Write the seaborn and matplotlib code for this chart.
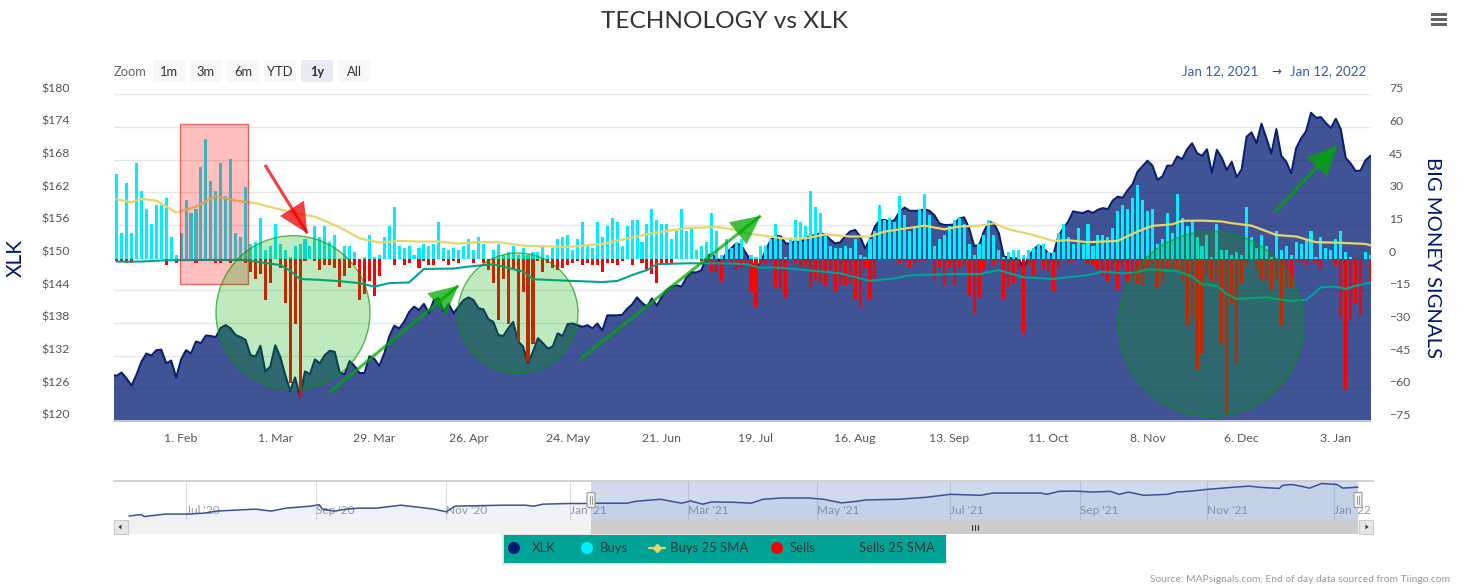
import numpy as np
import matplotlib
matplotlib.use("Agg")
import matplotlib.pyplot as plt
from matplotlib.patches import Circle, Rectangle, Polygon, FancyBboxPatch
import seaborn as sns

# daily values (Jan 12 2021 -> Jan 12 2022)
buys = [
    39,12,35,12,44,31,23,16,25,25, 28,10,2,12,27,21,23,42,55,36,
    31,44,29,46,12,10,33,7,8,19, 4,6,16,7,4,1,6,7,9,6,
    15,10,15,8,11,0,6,6,3,0, 1,11,1,2,10,15,24,6,5,6,
    2,5,7,6,7,17,5,4,5,4, 6,9,4,10,7,0,4,7,2,3, 6,2,
    5,2,3,3,6,2,5,9,10,11, 4,9,17,6,5,17,10,15,19,17,
    6,15,18,18,8,16,23,18,16,16, 9,13,23,13,14,4,6,8,21,13,
    2,9,5,8,9,0,2,1,6,6, 9,16,9,1,9,18,17,15,31,24,
    21,11,6,5,5,6,5,9,2,1, 9,13,25,18,19,17,29,20,13,14,
    23,30,20,6,9,11,15,18,19,
    16,7,2,7,11,18,11,4,1,3, 4,4,2,4,5,7,7,3,3,12,
    16,10,7,14,7,16,6,11,11,10, 14,22,25,23,28,34,27,22,23,7,
    9,21,12,30,19,15,17,10,6,11, 1,16,4,4,2,3,2,24,10,5,
    11,6,1,13,4,6,2,8,7,9, 13,1,10,5,4,9,13,3,1,0, 0,3,2,
]
sells = [
    1,1,2,2,0,0,0,0,0,0, 3,0,2,0,0,0,2,0,0,0,
    2,2,0,2,0,0,2,6,9,7, 19,11,0,4,20,57,30,64,1,0,
    1,5,3,3,4,13,8,4,3,19, 16,10,17,8,0,0,3,0,3,2,
    0,4,1,3,3,0,1,3,1,2, 0,0,2,0,2,5,11,28,9,30, 5,38,
    15,47,39,1,6,2,4,5,4,3, 2,1,3,2,3,3,6,2,2,3,
    1,0,3,0,2,5,7,11,2,2, 2,0,0,0,0,0,1,1,6,6,
    10,0,2,5,4,2,15,22,3,2, 1,13,14,18,0,2,4,3,13,9,
    11,12,5,15,12,12,11,19,22,4, 19,9,0,0,0,0,2,1,4,2,
    1,1,0,9,4,12,4,12,4,
    3,17,25,18,5,0,3,1,19,13, 11,5,34,3,8,0,5,6,15,5,
    0,2,1,0,0,2,3,5,8,10, 5,14,4,10,9,11,12,5,2,13,
    10,4,4,6,10,31,27,51,43,8, 10,10,39,71,20,48,11,3,0,5,
    9,10,14,9,31,13,13,1,1,3, 0,2,5,0,0,3,27,60,28,20, 26,0,10,
]
# first value is the day before the window, the area starts at the plot edge
xlk = [
    128.5,
    128.3,128.9,127.8,126.5,128.5,130.9,132.4,132.0,133.0,133.1,
    130.6,131.1,128.0,131.3,133.0,132.4,134.6,134.3,135.7,135.6,
    135.4,137.1,137.6,137.0,135.8,135.4,134.9,132.1,131.8,133.8,
    129.1,130.0,133.9,131.8,128.5,125.5,128.0,124.5,129.1,128.6,
    131.3,130.6,132.1,132.9,132.7,128.9,128.6,131.0,130.1,128.8,
    128.8,131.9,131.4,130.1,132.4,135.5,137.5,137.0,138.2,140.0,
    141.0,140.4,141.5,139.8,142.2,142.5,140.1,141.5,139.8,141.0,
    142.2,142.7,142.2,140.7,140.5,138.7,138.2,135.8,135.6,137.0,
    138.2,134.6,
    133.7,130.6,132.7,135.2,134.3,133.3,133.7,136.1,135.6,137.8,
    137.9,137.6,137.3,137.6,137.0,137.9,136.6,139.4,139.4,139.4,
    139.5,140.6,141.4,142.7,141.7,141.0,142.5,141.2,142.8,144.1,
    144.7,144.9,144.7,146.4,147.3,147.3,147.7,150.2,150.7,149.9,
    149.3,150.8,151.7,152.6,152.3,150.8,149.3,148.0,149.3,151.4,
    153.3,154.0,153.9,152.6,152.6,153.1,152.6,153.7,153.9,154.2,
    154.5,154.2,153.3,152.6,152.8,153.9,154.8,155.1,153.9,151.7,
    153.3,155.7,156.9,156.9,156.6,156.9,158.5,159.2,158.6,158.6,
    158.6,158.9,158.6,157.8,156.3,156.0,156.0,156.1,157.2,
    157.4,155.4,152.2,152.2,154.8,156.6,156.3,154.5,150.2,150.0,
    149.8,149.9,148.0,150.2,151.4,152.3,151.7,150.8,150.5,153.9,
    155.4,156.6,158.5,158.3,158.2,158.6,158.2,158.8,159.1,158.9,
    160.5,161.2,161.0,162.4,163.5,165.8,166.8,167.8,166.9,164.3,
    164.9,166.9,166.9,168.6,168.1,169.9,171.0,169.2,168.7,169.9,
    165.6,169.8,168.3,166.1,167.6,164.8,166.2,172.2,173.0,171.0,
    174.6,171.9,169.1,173.6,168.7,167.6,165.5,170.1,171.9,173.2,
    176.6,175.7,175.8,174.7,173.8,175.5,173.6,168.3,167.3,165.9,
    166.0,167.9,168.7,
]
buys_sma_days = [0,3,5,8,12,16,20,24,28,32,36,40,45,49,53,57,61,65,69,73,77,82,
                 88,91,98,101,108,115,121,125,128,135,139,143,148,152,155,163,167,170,
                 174,177,180,184,186,189,192,196,202,206,209,213,215,219,223,225,229,234,238,242,246,252,253]
buys_sma = [27.4,26.0,27.6,26.8,21.3,24.0,28.9,26.8,25.6,23.3,21.0,19.4,14.5,9.5,7.5,8.3,8.0,8.0,7.0,7.7,7.7,6.1,
            5.7,5.5,6.9,8.4,11.8,14.2,14.7,13.3,11.5,9.3,9.5,11.3,10.3,10.3,12.6,15.3,13.6,14.9,
            15.2,16.4,13.6,11.5,10.3,8.3,8.6,7.7,8.3,12.6,15.2,15.9,17.5,17.6,17.2,16.4,15.3,11.0,10.3,7.7,7.5,6.9,6.3]
sells_sma_days = [0,5,10,17,26,29,33,35,37,41,45,49,52,55,59,62,68,71,76,82,
                  84,91,98,101,104,107,109,115,119,124,127,130,134,139,146,152,157,160,170,
                  174,178,183,189,196,199,203,206,208,214,217,219,222,224,226,232,237,240,243,246,248,250,253]
sells_sma = [-1.2,-1.2,-0.6,-0.5,-0.5,-1.5,-2.8,-5.4,-9.2,-9.6,-10.2,-11.1,-12.7,-11.1,-10.8,-4.6,-4.4,-3.5,-2.4,-5.8,
             -9.3,-10,-10.6,-10.1,-7.4,-5.1,-2.4,-2,-2,-2.1,-2.4,-4,-4,-5.1,-6.6,-10.1,-8.9,-7.5,-6.9,
             -7.0,-5.1,-8.4,-9.2,-7.4,-5.8,-6.6,-6.1,-4.7,-5.5,-8.1,-11.6,-12.4,-16.2,-18.4,-17.6,-19.3,-18.8,-13.0,-12.7,-13.8,-12.3,-10.9]

price_ticks = [120,126,132,138,144,150,156,162,168,174,180]
signal_ticks = [-75,-60,-45,-30,-15,0,15,30,45,60,75]
date_ticks = [13,32,52,71,91,110,129,149,168,188,208,227,246]
date_labels = ["1. Feb","1. Mar","29. Mar","26. Apr","24. May","21. Jun","19. Jul",
               "16. Aug","13. Sep","11. Oct","8. Nov","6. Dec","3. Jan"]

# navigator series covers the prior months too
nav_days = [-153,-149,-148,-141,-133,-128,-124,-118,-111,-106,-101,-93,-90,-89,-85,-81,-77,-71,-63,-52,-48,-45,
            -29,-22,-19,-16,-7,-1,3,12,15,23,30,33,37,40,47,53,57,63,72,77,83,88,91,102,111,119,129,133,141,149,
            151,155,160,166,172,175,178,183,191,194,199,204,212,218,222,228,229,232,235,238,242,247,249,254]
nav_price = [98.5,102.2,97.3,103.4,103.4,105.8,110.6,113,115.5,110.6,117.9,122.7,126.4,115.5,110.6,115.5,117.9,117.9,125.2,115.5,108.9,122.7,
             125.2,125.2,122.7,127.6,129.3,129.3,130,130,134.8,139.7,130,135.6,127.6,133.1,132.4,130,139.7,142.8,142.8,139.7,130.7,134.8,138,139.7,144.5,151.8,149.4,154.9,154.9,154.9,
             151.8,159.1,159.8,157.4,159.1,151.8,157.4,149.4,151.8,157.4,159.8,163.9,168.7,171.9,168.7,166.3,173.6,176,171.9,167,178.4,176,167,169.5]
nav_ticks = [-134,-91,-48,-7,32,75,119,162,204,246]
nav_labels = ["Jul '20","Sep '20","Nov '20","Jan '21","Mar '21","May '21","Jul '21","Sep '21","Nov '21","Jan '22"]

W, H = 1458, 588
NAVY = "#001970"
CYAN = "#00eeff"
RED = "#ff0000"
YELLOW = "#e6d669"
TEAL = "#00a497"
GREEN = "#00aa00"

sns.set_theme(style="white")
plt.rcParams["font.family"] = ["Lato", "DejaVu Sans"]


def px_axes(fig, left, top, right, bottom):
    return fig.add_axes([left / W, 1 - bottom / H, (right - left) / W, (bottom - top) / H])


fig = plt.figure(figsize=(W / 100, H / 100), dpi=100)
ax = px_axes(fig, 114, 94.3, 1371, 421)

# price area on the left axis
xlk_days = np.arange(len(xlk)) - 1
ax.fill_between(xlk_days, xlk, 100, color=NAVY, alpha=0.75, lw=0, zorder=2)
sns.lineplot(x=xlk_days, y=xlk, ax=ax, color="#0a1f70", lw=1.5, zorder=3)
ax.set_ylim(120, 180)
ax.set_yticks(price_ticks, labels=[f"${p}" for p in price_ticks])
ax.set_xticks(date_ticks, labels=date_labels)
ax.grid(axis="y", color="#e6e6e6", lw=1)
ax.grid(axis="x", visible=False)
ax.set_axisbelow(True)
ax.tick_params(axis="y", length=0, pad=32, labelsize=8.8, labelcolor="#555555")
ax.tick_params(axis="x", length=7, width=0.8, color="#ccd6eb", pad=1.5, labelsize=8.8, labelcolor="#555555")
for lab in ax.get_yticklabels():
    lab.set_va("bottom")
for side in ["top", "left", "right"]:
    ax.spines[side].set_visible(False)
ax.spines["bottom"].set_color("#ccd6eb")
ax.set_xlabel("")
ax.set_ylabel("XLK", fontsize=15, color=NAVY)
ax.yaxis.set_label_coords((26 - 114) / 1257, 0.5)

# signals on the right axis, zero sits a hair under the middle gridline
ax2 = ax.twinx()
days = np.arange(len(buys))
sns.barplot(x=days, y=buys, ax=ax2, native_scale=True, color=CYAN, saturation=1, width=0.62,
            errorbar=None, linewidth=0, zorder=4)
sns.barplot(x=days, y=-np.array(sells), ax=ax2, native_scale=True, color=RED, saturation=1, width=0.62,
            errorbar=None, linewidth=0, zorder=4)
sns.lineplot(x=buys_sma_days, y=buys_sma, ax=ax2, color=YELLOW, lw=1.6, zorder=5)
sns.lineplot(x=sells_sma_days, y=sells_sma, ax=ax2, color=TEAL, lw=1.5, zorder=5)
ax2.set_ylim(-74.4, 75.6)
ax2.set_yticks(np.array(signal_ticks) + 0.6, labels=[str(s).replace("-", "\u2212") for s in signal_ticks])
ax2.tick_params(axis="y", length=0, pad=13, labelsize=8.8, labelcolor="#555555")
for lab in ax2.get_yticklabels():
    lab.set_va("bottom")
ax2.grid(False)
for side in ax2.spines:
    ax2.spines[side].set_visible(False)
ax2.set_ylabel("BIG MONEY SIGNALS", fontsize=14.6, color=NAVY, rotation=270)
ax2.yaxis.set_label_coords((1441 - 114) / 1257, 0.5)
ax2.set_xlabel("")
ax.set_xlim(-0.54, 253.1)
ax2.set_xlim(-0.54, 253.1)
ax2.set_xticks(date_ticks, labels=date_labels)
ax2.tick_params(axis="x", bottom=False, labelbottom=False)

# navigator strip
nav = px_axes(fig, 114, 480.5, 1373, 520)
nav.fill_between(nav_days, nav_price, 80, color="#6685c2", alpha=0.1, lw=0)
sns.lineplot(x=nav_days, y=nav_price, ax=nav, color="#3c5096", lw=1.1)
nav.axvspan(0, 254, color="#6685c2", alpha=0.3, lw=0)
nav.set_xlim(-158, 259)
nav.set_ylim(88.8, 185.7)
nav.set_yticks([])
nav.set_xticks(nav_ticks, labels=nav_labels)
nav.grid(axis="x", color="#dcdcdc", lw=0.8)
nav.set_axisbelow(True)
nav.tick_params(axis="x", length=0, pad=-11, labelsize=8.6, labelcolor="#999999")
for lab in nav.get_xticklabels():
    lab.set_ha("left")
for side in ["left", "right", "bottom"]:
    nav.spines[side].set_visible(False)
nav.spines["top"].set_color("#cccccc")
nav.set_xlabel("")
nav.set_ylabel("")

# everything drawn in picture pixels sits on a full-figure layer
top = fig.add_axes([0, 0, 1, 1], zorder=10)
top.set_xlim(0, W)
top.set_ylim(H, 0)
top.axis("off")


def arrow(start, tip, c1, c2, color, alpha=0.75):
    top.plot([start[0], tip[0]], [start[1], tip[1]], color=color, lw=2.2, alpha=alpha, solid_capstyle="butt")
    top.add_patch(Polygon([tip, c1, c2], closed=True, facecolor=color, edgecolor="none", alpha=alpha))


top.add_patch(Rectangle((180, 123.5), 68, 160, facecolor=(1, 0, 0, 0.25), edgecolor=(0.85, 0, 0, 0.55), lw=1))
for cx, cy, r in [(293, 312.7, 77), (518, 313, 60), (1211, 324, 92.5)]:
    top.add_patch(Circle((cx, cy), r, facecolor=(0, 0.667, 0, 0.25), edgecolor=(0, 0.6, 0, 0.65), lw=1))
arrow((265, 165), (307.3, 233.3), (280, 216), (304, 200.7), "#ee0000")
arrow((329.3, 392.7), (458.3, 285.7), (427.3, 293.3), (446, 314.3), GREEN)
arrow((580, 359.3), (760.7, 215.7), (729, 222.3), (746.7, 244.3), GREEN)
arrow((1275, 211.7), (1336.7, 146), (1306.7, 157.3), (1327.3, 176.7), GREEN)

# header
top.text(725, 21.5, "TECHNOLOGY vs XLK", ha="center", va="center", fontsize=17.6, color="#333333")
for y in (14.5, 19.5, 24.5):
    top.add_patch(Rectangle((1431, y - 1.3), 16.5, 2.6, facecolor="#666666", edgecolor="none"))

top.text(114, 72.5, "Zoom", ha="left", va="center", fontsize=9.3, color="#666666")
zoom_labels = ["1m", "3m", "6m", "YTD", "1y", "All"]
for i, lab in enumerate(zoom_labels):
    x0 = 153 + 37 * i
    active = lab == "1y"
    top.add_patch(FancyBboxPatch((x0 + 1, 61), 30, 20, boxstyle="round,pad=1,rounding_size=2",
                                 facecolor="#e6ebf5" if active else "#f7f7f7", edgecolor="none"))
    top.text(x0 + 16, 72.5, lab, ha="center", va="center", fontsize=9.3, color="#333333",
             fontweight="bold" if active else "normal")

top.text(1182, 71.5, "Jan 12, 2021", ha="left", va="center", fontsize=9.6, color="#335cad")
top.text(1276, 71.5, "\u2192", ha="center", va="center", fontsize=8.5, color="#444444", family="DejaVu Sans")
top.text(1366, 71.5, "Jan 12, 2022", ha="right", va="center", fontsize=9.6, color="#335cad")

# scrollbar under the navigator
top.add_patch(Rectangle((114, 520), 1259, 14, facecolor="#f2f2f2", edgecolor="none"))
top.add_patch(Rectangle((591, 520), 767, 14, facecolor="#cccccc", edgecolor="none"))
for x0 in (114, 1359):
    top.add_patch(Rectangle((x0, 520), 14, 14, facecolor="#e6e6e6", edgecolor="#cccccc", lw=0.8))
top.add_patch(Polygon([(118.5, 527), (121.5, 524.5), (121.5, 529.5)], closed=True, facecolor="#333333", edgecolor="none"))
top.add_patch(Polygon([(1368.5, 527), (1365.5, 524.5), (1365.5, 529.5)], closed=True, facecolor="#333333", edgecolor="none"))
for x0 in (972, 975, 978):
    top.plot([x0, x0], [524.5, 529.5], color="#333333", lw=0.8)
for x0 in (591, 1358):
    top.add_patch(FancyBboxPatch((x0 - 3.5, 493), 7, 14, boxstyle="round,pad=0.5,rounding_size=1",
                                 facecolor="#f2f2f2", edgecolor="#999999", lw=0.8))
    top.plot([x0 - 1, x0 - 1], [496, 504], color="#999999", lw=0.7)
    top.plot([x0 + 1, x0 + 1], [496, 504], color="#999999", lw=0.7)

# legend box
top.add_patch(Rectangle((502.5, 533.5), 445, 31, facecolor="#e4e4e4", edgecolor="none"))
top.add_patch(Rectangle((504, 535), 442, 28, facecolor=TEAL, edgecolor="none"))
legend_dots = [(514, NAVY), (587, CYAN), (777, RED)]
for x0, col in legend_dots:
    top.add_patch(Circle((x0, 548), 6, facecolor=col, edgecolor="none"))
top.plot([649, 665], [548, 548], color=YELLOW, lw=1.6)
top.plot([657], [548], marker="D", ms=4.5, color=YELLOW)
legend_texts = [("XLK", 532), ("Buys", 600), ("Buys 25 SMA", 670), ("Sells", 790), ("Sells 25 SMA", 859)]
for name, x0 in legend_texts:
    top.text(x0, 548, name, ha="left", va="center", fontsize=9.4, color="#333333")

top.text(1450, 579.5, "Source: MAPsignals.com, End of day data sourced from Tiingo.com",
         ha="right", va="center", fontsize=7.4, color="#999999")

fig.savefig("out.png", dpi=100)
